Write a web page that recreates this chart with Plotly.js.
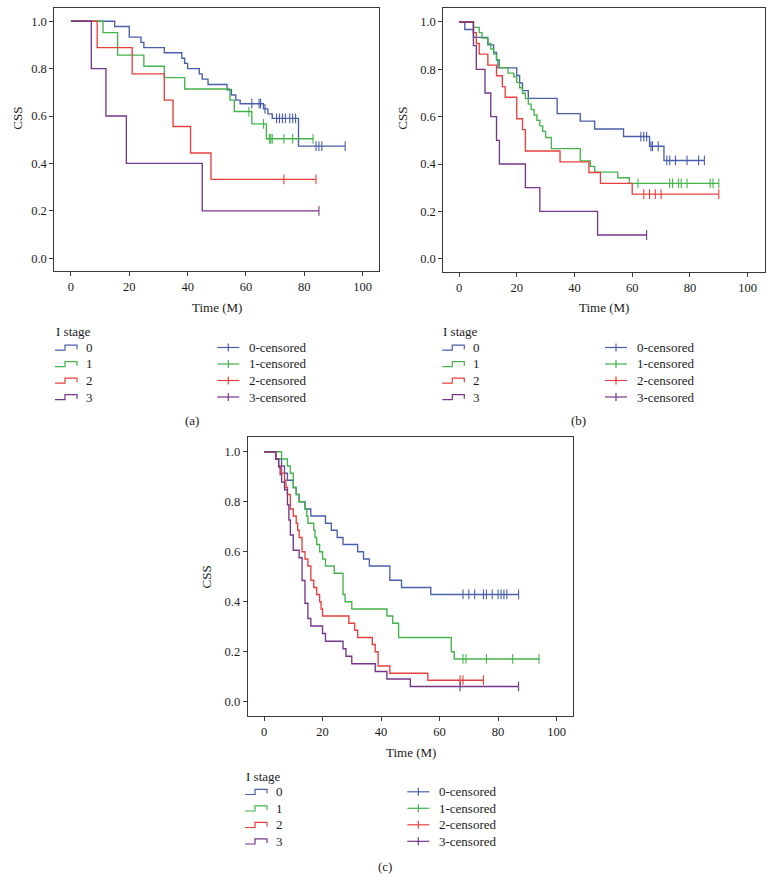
<!DOCTYPE html>
<html>
<head>
<meta charset="utf-8">
<script src="https://cdn.plot.ly/plotly-3.0.1.min.js"></script>
<style>html,body{margin:0;padding:0;background:#fff;}#chart{width:773px;height:891px;}</style>
</head>
<body>
<div id="chart"></div>
<script>
// ---------- data ----------
const xTicks = [0, 20, 40, 60, 80, 100];
const yTicks = [0, 0.2, 0.4, 0.6, 0.8, 1.0];
const stageNames = ['0', '1', '2', '3'];
const censorNames = ['0-censored', '1-censored', '2-censored', '3-censored'];
const legendTitle = 'I stage';
const xTitle = 'Time (M)';
const yTitle = 'CSS';
const panelLabels = ['(a)', '(b)', '(c)'];

// panel (a)
const a0_time = [0, 15, 20, 24, 25, 32, 38, 39, 40, 44, 45, 47, 53.5, 55, 56.5, 58, 66, 67.5, 69, 78, 94];
const a0_css  = [1, 0.978, 0.933, 0.911, 0.889, 0.867, 0.844, 0.822, 0.800, 0.778, 0.756, 0.733, 0.711, 0.689, 0.667, 0.652, 0.630, 0.609, 0.590, 0.473, 0.473];
const a0_cens = [62, 64.5, 65, 66.5, 70.5, 71.5, 72.5, 73.5, 75, 76, 77, 84, 85, 86, 94];
const a1_time = [0, 11, 16, 25, 32, 39, 54.5, 56, 62, 67, 83];
const a1_css  = [1, 0.952, 0.857, 0.810, 0.762, 0.714, 0.667, 0.619, 0.567, 0.504, 0.504];
const a1_cens = [61, 66, 68, 68.5, 69, 73, 76, 83];
const a2_time = [0, 9, 21, 32, 35, 41, 48, 84];
const a2_css  = [1, 0.889, 0.778, 0.667, 0.556, 0.444, 0.333, 0.333];
const a2_cens = [73, 84];
const a3_time = [0, 7, 12, 19, 45, 85];
const a3_css  = [1, 0.8, 0.6, 0.4, 0.2, 0.2];
const a3_cens = [85];

// panel (b)
const b0_time = [0, 2, 5, 10, 12, 13, 13.5, 20, 21, 22, 24, 34, 42, 47, 57, 66, 71, 85];
const b0_css  = [1, 0.968, 0.935, 0.903, 0.871, 0.839, 0.806, 0.774, 0.742, 0.710, 0.677, 0.613, 0.581, 0.548, 0.516, 0.475, 0.415, 0.415];
const b0_cens = [63, 64, 65, 66.5, 67, 69, 72, 73, 75, 79, 83, 85];
const b1_time = [0, 5, 7, 8, 10, 11, 12, 13, 14, 17, 19, 20, 21, 22, 23, 24, 25, 26, 27, 28, 29, 30, 32, 42, 45.5, 47, 55, 59, 90];
const b1_css  = [1, 0.977, 0.955, 0.932, 0.909, 0.886, 0.864, 0.841, 0.807, 0.784, 0.768, 0.745, 0.722, 0.699, 0.676, 0.653, 0.630, 0.607, 0.584, 0.561, 0.538, 0.512, 0.465, 0.413, 0.390, 0.366, 0.342, 0.318, 0.318];
const b1_cens = [62, 73, 74, 76, 77, 79, 87, 88, 90];
const b2_time = [0, 5, 6, 7, 10, 13, 15, 16, 20, 22, 23, 35, 45, 49, 60, 90];
const b2_css  = [1, 0.955, 0.909, 0.864, 0.818, 0.773, 0.727, 0.682, 0.591, 0.545, 0.455, 0.409, 0.364, 0.318, 0.273, 0.273];
const b2_cens = [64, 66, 68, 70, 90];
const b3_time = [0, 5, 6, 9, 11, 13, 14, 23, 28, 48, 65];
const b3_css  = [1, 0.9, 0.8, 0.7, 0.6, 0.5, 0.4, 0.3, 0.2, 0.1, 0.1];
const b3_cens = [65];

// panel (c)
const c0_time = [0, 4, 6, 7, 8, 10, 11, 12, 14, 16, 21, 23, 25, 27, 32, 34, 36, 43, 47, 57, 87];
const c0_css  = [1, 0.971, 0.943, 0.914, 0.886, 0.857, 0.829, 0.800, 0.771, 0.743, 0.714, 0.686, 0.657, 0.629, 0.600, 0.571, 0.543, 0.486, 0.457, 0.429, 0.429];
const c0_cens = [68, 70, 72, 75, 76, 78, 80, 81, 82, 83, 87];
const c1_time = [0, 6, 8, 9, 10, 11, 12, 14, 14.6, 15, 17, 17.4, 18, 19, 20, 21, 24, 27, 27.7, 30, 42, 44, 46, 64, 65, 94];
const c1_css  = [1, 0.971, 0.943, 0.914, 0.857, 0.829, 0.800, 0.771, 0.743, 0.714, 0.686, 0.657, 0.629, 0.600, 0.571, 0.543, 0.514, 0.429, 0.400, 0.371, 0.343, 0.314, 0.257, 0.200, 0.171, 0.171];
const c1_cens = [68, 69, 76, 85, 94];
const c2_time = [0, 4, 5, 6, 7, 7.5, 8, 9, 10, 11, 11.5, 12, 13, 14, 15, 16, 17, 18, 19, 19.5, 20, 29, 31, 32, 37, 38, 39, 43, 56, 75];
const c2_css  = [1, 0.971, 0.943, 0.914, 0.886, 0.857, 0.829, 0.771, 0.743, 0.714, 0.686, 0.657, 0.600, 0.571, 0.543, 0.486, 0.457, 0.429, 0.400, 0.371, 0.343, 0.314, 0.286, 0.257, 0.229, 0.200, 0.143, 0.114, 0.086, 0.086];
const c2_cens = [67, 68, 75];
const c3_time = [0, 4, 5, 5.5, 6, 7, 8, 8.5, 9, 10, 12, 13, 14, 15, 16, 20, 21, 27, 28, 30, 38, 42, 50, 87];
const c3_css  = [1, 0.970, 0.939, 0.909, 0.879, 0.848, 0.788, 0.727, 0.667, 0.606, 0.576, 0.485, 0.394, 0.333, 0.303, 0.273, 0.242, 0.212, 0.182, 0.152, 0.121, 0.091, 0.061, 0.061];
const c3_cens = [67, 87];

const panelData = [
  [[a0_time, a0_css, a0_cens], [a1_time, a1_css, a1_cens], [a2_time, a2_css, a2_cens], [a3_time, a3_css, a3_cens]],
  [[b0_time, b0_css, b0_cens], [b1_time, b1_css, b1_cens], [b2_time, b2_css, b2_cens], [b3_time, b3_css, b3_cens]],
  [[c0_time, c0_css, c0_cens], [c1_time, c1_css, c1_cens], [c2_time, c2_css, c2_cens], [c3_time, c3_css, c3_cens]]
];

// ---------- style / layout ----------
const colors = ['#4a5fab', '#45b34c', '#e6403e', '#76368a'];
const FONT = 'Liberation Serif';
const TXT = '#1c1c1c';
const AX = '#3a3a3a';
const W = 773, H = 891;
function px(x) { return x / W; }
function py(y) { return 1 - y / H; }

const panels = [
  { xd: [54.3, 379.3], yd: [8, 271], xr: [-5.7, 105.7], yr: [-0.054, 1.056], yt: [16.7, 118], xt: [216.8, 307.5], lg: [55, 331.7, 217.3], lab: [191.7, 420] },
  { xd: [443.3, 765], yd: [8, 272.3], xr: [-5.44, 106.0], yr: [-0.0575, 1.059], yt: [401.7, 118], xt: [604, 307.5], lg: [442.3, 331.7, 605], lab: [578.3, 420] },
  { xd: [247.7, 572.7], yd: [437, 715.7], xr: [-5.58, 105.5], yr: [-0.056, 1.0588], yt: [206.7, 576.7], xt: [410.5, 752.3], lg: [245, 776, 407.3], lab: [385, 866] }
];

function stepAt(t, s, c) {
  let v = s[0];
  for (let i = 0; i < t.length; i++) if (t[i] <= c) v = s[i];
  return v;
}

const traces = [];
const layout = {
  width: W, height: H,
  margin: { l: 0, r: 0, t: 0, b: 0 },
  paper_bgcolor: '#fff', plot_bgcolor: '#fff',
  showlegend: false,
  font: { family: FONT, size: 12, color: TXT },
  shapes: [], annotations: []
};

panels.forEach((p, pi) => {
  const sfx = pi === 0 ? '' : String(pi + 1);
  const xa = 'x' + sfx, ya = 'y' + sfx;
  layout['xaxis' + sfx] = {
    domain: [px(p.xd[0]), px(p.xd[1])], range: p.xr, anchor: ya,
    tickmode: 'array', tickvals: xTicks, ticktext: xTicks.map(String),
    showline: true, mirror: true, linecolor: AX, linewidth: 1,
    ticks: 'outside', ticklen: 4, tickcolor: AX, tickwidth: 1,
    showgrid: false, zeroline: false, fixedrange: true,
    tickfont: { family: FONT, size: 12.5, color: TXT }
  };
  layout['yaxis' + sfx] = {
    domain: [py(p.yd[1]), py(p.yd[0])], range: p.yr, anchor: xa,
    tickmode: 'array', tickvals: yTicks, ticktext: yTicks.map(v => v.toFixed(1)),
    showline: true, mirror: true, linecolor: AX, linewidth: 1,
    ticks: 'outside', ticklen: 4, tickcolor: AX, tickwidth: 1,
    showgrid: false, zeroline: false, fixedrange: true,
    tickfont: { family: FONT, size: 12.5, color: TXT }
  };

  panelData[pi].forEach((d, k) => {
    const [t, s, cens] = d;
    traces.push({
      type: 'scatter', mode: 'lines', x: t, y: s, xaxis: xa, yaxis: ya,
      line: { shape: 'hv', color: colors[k], width: 1.35 },
      name: stageNames[k], hoverinfo: 'skip'
    });
    traces.push({
      type: 'scatter', mode: 'markers', x: cens, y: cens.map(c => stepAt(t, s, c)),
      xaxis: xa, yaxis: ya, name: censorNames[k], hoverinfo: 'skip',
      marker: { symbol: 'line-ns', size: 7, color: colors[k], line: { color: colors[k], width: 1.1 } }
    });
  });

  layout.annotations.push({
    text: yTitle, xref: 'paper', yref: 'paper', x: px(p.yt[0]), y: py(p.yt[1]),
    textangle: -90, showarrow: false, xanchor: 'center', yanchor: 'middle',
    font: { family: FONT, size: 13, color: TXT }
  });
  layout.annotations.push({
    text: xTitle, xref: 'paper', yref: 'paper', x: px(p.xt[0]), y: py(p.xt[1]),
    showarrow: false, xanchor: 'center', yanchor: 'middle',
    font: { family: FONT, size: 13, color: TXT }
  });
  layout.annotations.push({
    text: panelLabels[pi], xref: 'paper', yref: 'paper', x: px(p.lab[0]), y: py(p.lab[1]),
    showarrow: false, xanchor: 'center', yanchor: 'middle',
    font: { family: FONT, size: 13, color: TXT }
  });

  const lx = p.lg[0], ly = p.lg[1], cx = p.lg[2];
  layout.annotations.push({
    text: legendTitle, xref: 'paper', yref: 'paper', x: px(lx - 1), y: py(ly),
    showarrow: false, xanchor: 'left', yanchor: 'middle',
    font: { family: FONT, size: 13, color: TXT }
  });
  const rowGap = 16.5;
  stageNames.forEach((nm, k) => {
    const yc = ly + 15.8 + k * rowGap;
    const path = 'M' + px(lx) + ',' + py(yc + 2.7) + ' L' + px(lx + 10) + ',' + py(yc + 2.7) +
      ' L' + px(lx + 10) + ',' + py(yc - 2.4) + ' L' + px(lx + 22) + ',' + py(yc - 2.4) +
      ' L' + px(lx + 22) + ',' + py(yc + 1.8);
    layout.shapes.push({ type: 'path', xref: 'paper', yref: 'paper', path: path,
      line: { color: colors[k], width: 1.2 } });
    layout.annotations.push({
      text: nm, xref: 'paper', yref: 'paper', x: px(lx + 29), y: py(yc),
      showarrow: false, xanchor: 'left', yanchor: 'middle',
      font: { family: FONT, size: 13, color: TXT }
    });
    layout.shapes.push({ type: 'line', xref: 'paper', yref: 'paper',
      x0: px(cx), x1: px(cx + 22), y0: py(yc), y1: py(yc), line: { color: colors[k], width: 1.2 } });
    layout.shapes.push({ type: 'line', xref: 'paper', yref: 'paper',
      x0: px(cx + 11), x1: px(cx + 11), y0: py(yc - 4), y1: py(yc + 4), line: { color: colors[k], width: 1.2 } });
    layout.annotations.push({
      text: censorNames[k], xref: 'paper', yref: 'paper', x: px(cx + 30), y: py(yc),
      showarrow: false, xanchor: 'left', yanchor: 'middle',
      font: { family: FONT, size: 13, color: TXT }
    });
  });
});

Plotly.newPlot('chart', traces, layout, { staticPlot: true, displayModeBar: false });
</script>
</body>
</html>
